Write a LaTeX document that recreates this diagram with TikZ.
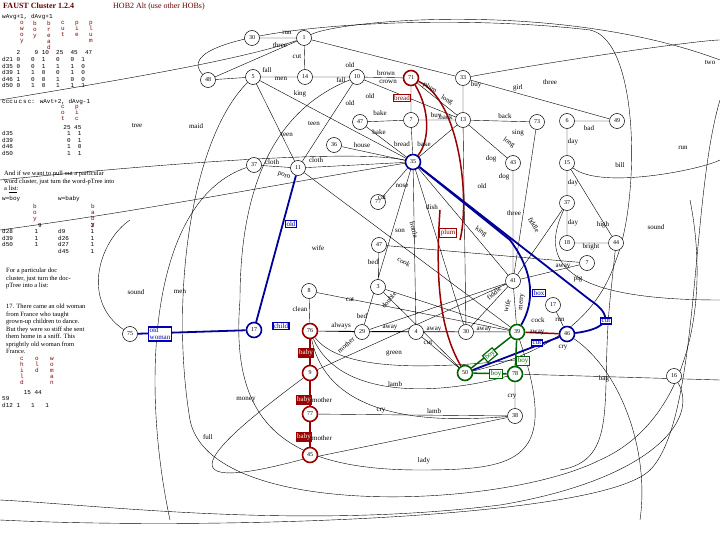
\documentclass[tikz,border=0pt]{standalone}
\usepackage{fontspec}
\setmainfont{Liberation Serif}
\newfontfamily\monofnt{Liberation Mono}
\usetikzlibrary{backgrounds}
\begin{document}
\begin{tikzpicture}[x=1pt,y=-1pt,
 n/.style={circle,draw,line width=0.5pt,inner sep=0pt,minimum size=15pt,font=\fontsize{6}{6}\selectfont,fill=white},
 rn/.style={n,draw=red!60!black,line width=1.6pt},
 bn/.style={n,draw=blue!60!black,line width=1.6pt},
 gn/.style={n,draw=green!40!black,line width=1.6pt},
 l/.style={font=\fontsize{7}{7}\selectfont,inner sep=1pt},
 rb/.style={l,draw=red!60!black,fill=red!60!black,text=white,line width=0.8pt},
 rbw/.style={l,draw=red!60!black,line width=0.8pt,text=red!50!black,fill=white},
 bb/.style={l,draw=blue!70!black,line width=1.2pt,text=blue!70!black,fill=white},
 gb/.style={l,draw=green!40!black,line width=1.2pt,text=green!40!black,fill=white},
 e/.style={line width=0.4pt},
 re/.style={line width=1.5pt,red!60!black},
 be/.style={line width=1.8pt,blue!60!black},
 ge/.style={line width=1.5pt,green!40!black},
 tx/.style={font=\fontsize{6.5}{7.5}\selectfont,align=left,anchor=north west,inner sep=0pt},
 mt/.style={font=\monofnt\fontsize{6}{6.5}\selectfont,anchor=north west,inner sep=0pt},
 vt/.style={font=\monofnt\fontsize{6}{6}\selectfont,text=red!50!black,anchor=north,inner sep=0pt,align=center}]
\useasboundingbox (0,0) rectangle (720,540);
% nodes
\node[n] (n30) at (252,38) {30};
\node[n] (n1) at (304,38) {1};
\node[n] (n5) at (253,77) {5};
\node[n] (n14) at (305,77) {14};
\node[n] (n10) at (357,77) {10};
\node[rn] (n71) at (411,78) {71};
\node[n] (n33) at (463,78) {33};
\node[n] (n48) at (208,80) {48};
\node[n] (n47) at (360,122) {47};
\node[n] (n7) at (411,120) {7};
\node[n] (n13) at (463,120) {13};
\node[n] (n73) at (537,122) {73};
\node[n] (n6) at (567,121) {6};
\node[n] (n49) at (617,121) {49};
\node[n] (n36) at (334,145) {36};
\node[bn] (n35) at (413,162) {35};
\node[n] (n43) at (513,163) {43};
\node[n] (n15) at (567,163) {15};
\node[n] (n37a) at (254,165) {37};
\node[n] (n11) at (298,168) {11};
\node[n] (n77) at (378,202) {77};
\node[n] (n37b) at (567,203) {37};
\node[n] (n18) at (567,243) {18};
\node[n] (n44) at (616,243) {44};
\node[n] (n47b) at (379,245) {47};
\node[n] (n7b) at (587,263) {7};
\node[n] (n41) at (513,281) {41};
\node[n] (n8) at (309,291) {8};
\node[n] (n3) at (378,287) {3};
\node[n] (n17b) at (553,305) {17};
\node[n] (n75) at (130,334) {75};
\node[bn] (n17) at (254,330) {17};
\node[rn] (n76) at (310,331) {76};
\node[n] (n29) at (362,332) {29};
\node[n] (n4) at (416,332) {4};
\node[n] (n30b) at (466,332) {30};
\node[gn] (n39) at (517,332) {39};
\node[bn] (n46) at (567,334) {46};
\node[gn] (n50) at (465,373) {50};
\node[gn] (n78) at (515,374) {78};
\node[rn] (n9) at (310,373) {9};
\node[n] (n16) at (674,376) {16};
\node[rn] (n77b) at (310,414) {77};
\node[n] (n38) at (515,416) {38};
\node[rn] (n45) at (310,455) {45};
% title and text
\node[anchor=north west,inner sep=0pt,font=\bfseries\fontsize{8}{8}\selectfont,text=red!40!black] at (3,3) {FAUST Cluster 1.2.4};
\node[anchor=north west,inner sep=0pt,font=\fontsize{8}{8}\selectfont,text=red!40!black] at (113,3) {HOB2 Alt (use other HOBs)};
\node[mt] at (2,14) {wAvg+1, dAvg+1};
\node[vt] at (22,21) {o\\w\\o\\y};
\node[vt] at (35,21) {b\\o\\y};
\node[vt] at (49,21) {b\\r\\e\\a\\d};
\node[vt] at (63,21) {c\\u\\t};
\node[vt] at (77,21) {p\\i\\e};
\node[vt] at (91,21) {p\\l\\u\\m};
\node[mt] at (2,50) {\ \ \ \ 2\ \ \ \ 9\ 10\ \ 25\ \ 45\ \ 47};
\node[mt,align=left] at (2,57) {d21 0\ \ \ 0\ \ 1\ \ \ 0\ \ \ 0\ \ 1\\d35 0\ \ \ 0\ \ 1\ \ \ 1\ \ \ 1\ \ 0\\d39 1\ \ \ 1\ \ 0\ \ \ 0\ \ \ 1\ \ 0\\d46 1\ \ \ 0\ \ 0\ \ \ 1\ \ \ 0\ \ 0\\d50 0\ \ \ 1\ \ 0\ \ \ 1\ \ \ 1\ \ 1};
\node[mt] at (2,99) {ccc\,u\,c\,s\,c: wAvt+2, dAvg-1};
\node[vt] at (63,105) {c\\o\\t};
\node[vt] at (77,105) {p\\i\\c};
\node[mt,align=left] at (2,125) {\ \ \ \ \ \ \ \ \ \ \ \ \ \ \ \ \ 25\ 45\\d35\ \ \ \ \ \ \ \ \ \ \ \ \ \ \ 1\ \ 1\\d39\ \ \ \ \ \ \ \ \ \ \ \ \ \ \ 0\ \ 1\\d46\ \ \ \ \ \ \ \ \ \ \ \ \ \ \ 1\ \ 0\\d50\ \ \ \ \ \ \ \ \ \ \ \ \ \ \ 1\ \ 1};
\node[tx] at (4,171) {And if we want to pull out a particular\\word cluster, just turn the word-pTree into\\a \underline{list}:};
\node[mt] at (2,196) {w=boy};
\node[mt] at (58,196) {w=baby};
\node[vt] at (35,204) {b\\o\\y};
\node[vt] at (93,204) {b\\a\\b\\y};
\node[mt,align=left] at (2,223) {\ \ \ \ \ \ \ \ \ \ 9\\d28\ \ \ \ \ \ 1\\d39\ \ \ \ \ \ 1\\d50\ \ \ \ \ \ 1};
\node[mt,align=left] at (58,223) {\ \ \ \ \ \ \ \ \ 3\\d9\ \ \ \ \ \ \ 1\\d26\ \ \ \ \ \ 1\\d27\ \ \ \ \ \ 1\\d45\ \ \ \ \ \ 1};
\node[tx] at (6,268) {For a particular doc\\cluster, just turn the doc-\\pTree into a list:};
\node[tx] at (6,304) {17. There came an old woman\\from France who taught\\grown-up children to dance.\\But they were so stiff she sent\\them home in a sniff. This\\sprightly old woman from\\France.};
\node[vt] at (22,357) {c\\h\\i\\l\\d};
\node[vt] at (37,357) {o\\l\\d};
\node[vt] at (52,357) {w\\o\\m\\a\\n};
\node[mt,align=left] at (2,390) {\ \ \ \ \ \ 15\ 44\\59\\d12\ 1\ \ \ 1\ \ \ 1};
\begin{pgfonlayer}{background}
\draw[e] (n30)--(n1) (n1)--(n14) (n5)--(n14) (n14)--(n10) (n10)--(n71) (n71)--(n7) (n7)--(n35)
 (n47)--(n7) (n7)--(n13) (n33)--(n13) (n13)--(n73) (n6)--(n49) (n6)--(n15) (n15)--(n37b)
 (n37b)--(n18) (n18)--(n44) (n15)--(n44) (n37a)--(n11) (n11)--(n35) (n36)--(n35) (n5)--(n11)
 (n5)--(n35) (n10)--(n11) (n10)--(n13) (n71)--(n13) (n13)--(n43) (n43)--(n41) (n73)--(n41)
 (n33)--(n49) (n47)--(n35) (n3)--(n39) (n47b)--(n7b) (n7b)--(n41) (n8)--(n76) (n76)--(n29)
 (n29)--(n4) (n4)--(n30b) (n30b)--(n39) (n8)--(n39) (n41)--(n39) (n41)--(n30b) (n37b)--(n41)
 (n38)--(n78) (n38)--(n77b) (n35)--(n30b) (n35)--(n41) (n35)--(n77) (n47b)--(n3) (n3)--(n50)
 (n29)--(n41) (n9)--(n41) (n35)--(n4) (n13)--(n30b) (n46)--(n17b) (n13)--(n35) (n11)--(n39)
 (n1)--(n48) (n1)--(n33) (n4)--(n50) (n76)--(n39) (n29)--(n35) (n5)--(n48);
\draw[e] (n1) .. controls (340,20) and (560,0) .. (720,60);
\draw[e] (n1) .. controls (240,60) and (120,80) .. (0,100);
\draw[e] (n48) .. controls (160,30) and (420,10) .. (590,30) .. controls (640,40) and (640,200) .. (616,260) .. controls (600,310) and (560,350) .. (n50);
\draw[e] (n76) .. controls (340,370) and (420,370) .. (515,360);
\draw[e] (n76) .. controls (340,400) and (440,395) .. (n78);
\draw[e] (n76) .. controls (330,430) and (460,420) .. (n38);
\draw[e] (n9) .. controls (220,440) and (150,500) .. (300,460) -- (n38);
\draw[e] (n10) .. controls (300,100) and (240,150) .. (240,300) .. controls (230,420) and (280,470) .. (420,470) .. controls (520,470) and (560,460) .. (n39);
\draw[e] (n5) .. controls (190,140) and (170,300) .. (190,420) .. controls (210,520) and (500,510) .. (600,460) .. controls (690,420) and (710,300) .. (690,200);
\draw[e] (n16) .. controls (700,420) and (650,480) .. (500,505) .. controls (300,530) and (100,505) .. (0,500);
\draw[e] (n37a) .. controls (150,200) and (140,380) .. (170,520);
\draw[e] (0,520) .. controls (200,530) and (600,520) .. (650,470) .. controls (700,420) and (690,200) .. (720,100);
\draw[e] (n33) .. controls (560,60) and (700,40) .. (720,40);
\draw[e] (n15) .. controls (600,190) and (700,170) .. (720,160);
\draw[e] (n37b) .. controls (540,260) and (560,300) .. (720,300);
\draw[e] (n44) -- (610,300) .. controls (600,400) and (620,460) .. (560,470);
\draw[e] (0,180) .. controls (200,160) and (360,150) .. (n35);
\draw[e] (0,230) .. controls (150,210) and (300,180) .. (n35);
\draw[e] (n75) .. controls (80,300) and (100,240) .. (130,220);
\draw[e] (n78) -- (720,380);
\draw[e] (n46) .. controls (620,370) and (650,450) .. (640,520);
\end{pgfonlayer}
% red edges
\draw[re] (n71) .. controls (430,110) and (430,140) .. (n35);
\draw[re] (n71) .. controls (460,100) and (470,200) .. (460,240);
\draw[re] (n76)--(n9) (n9)--(n77b) (n77b)--(n45);
\draw[re] (440,210) .. controls (435,280) and (440,330) .. (n50);
\draw[re] (n39)--(n46);
% blue edges
\draw[be] (n17)--(n11) (n75)--(n17);
\draw[be] (n35) -- (590,300) .. controls (620,320) and (600,330) .. (n46);
\draw[be] (n35) -- (510,240) .. controls (540,280) and (530,310) .. (n39);
\draw[be] (n46)--(n50);
\draw[ge] (n39)--(n50) (n39)--(n78) (n50)--(n78);
% label boxes
\node[bb,align=left] at (160,334) {old\\woman};
\node[bb] at (281,326) {child};
\node[bb] at (291,224) {old};
\node[bb] at (539,293) {box};
\node[bb] at (606,321) {cut};
\node[bb] at (537,343) {cut};
\node[rb] at (306,353) {baby};
\node[rb] at (304,400) {baby};
\node[rb] at (304,437) {baby};
\node[rbw] at (402,98) {bread};
\node[rbw] at (448,233) {plum};
\node[gb] at (523,361) {boy};
\node[gb] at (496,374) {boy};
\node[gb,rotate=40] at (490,355) {boy};
% edge labels
\foreach \lab/\x/\y in {run/287/33, three/280/45, cut/297/57, fall/267/70, men/281/79, fall/341/80, old/350/65, brown/386/73, crown/388/82, buy/476/85, girl/518/88, three/550/82, two/710/63, king/300/94, old/350/103, old/370/96, bake/380/113, bake/379/132, buy/436/116, back/446/117, back/505/116, sing/518/133, bad/589/128, day/573/142, teen/314/124, teen/287/135, house/362/145, bread/402/144, bake/424/144, cloth/316/160, cloth/272/162, dog/491/159, dog/504/177, old/482/186, nose/402/186, cat/382/198, dish/432/207, three/514/213, day/573/183, day/573/223, high/603/225, bright/591/247, sound/656/227, run/683/148, bill/620/165, son/400/231, wife/318/248, bed/373/262, away/563/267, pig/578/279, cat/350/300, clean/300/309, bed/362/316, always/341/326, away/390/328, away/434/330, away/484/330, cut/428/343, cock/538/320, run/560/320, away/537/333, cry/563/348, green/394/353, lamb/395/384, lamb/434/411, cry/381/411, cry/512/397, mother/322/400, mother/322/438, money/246/400, full/208/437, sound/136/292, men/180/292, tree/137/126, maid/196/126, lady/424/461, bag/604/379} {\node[l] at (\x,\y) {\lab};}
\node[l,rotate=-30] at (430,88) {plum};
\node[l,rotate=-30] at (447,100) {long};
\node[l,rotate=-35] at (509,143) {long};
\node[l,rotate=-60] at (534,225) {fiddle};
\node[l,rotate=-35] at (481,232) {king};
\node[l,rotate=-75] at (414,230) {bottle};
\node[l,rotate=-30] at (404,262) {cook};
\node[l,rotate=50] at (389,300) {double};
\node[l,rotate=40] at (346,345) {mother};
\node[l,rotate=40] at (494,293) {fiddle};
\node[l,rotate=75] at (507,306) {wife};
\node[l,rotate=85] at (522,302) {merry};
\node[l,rotate=-20] at (284,176) {porn};
\end{tikzpicture}
\end{document}
